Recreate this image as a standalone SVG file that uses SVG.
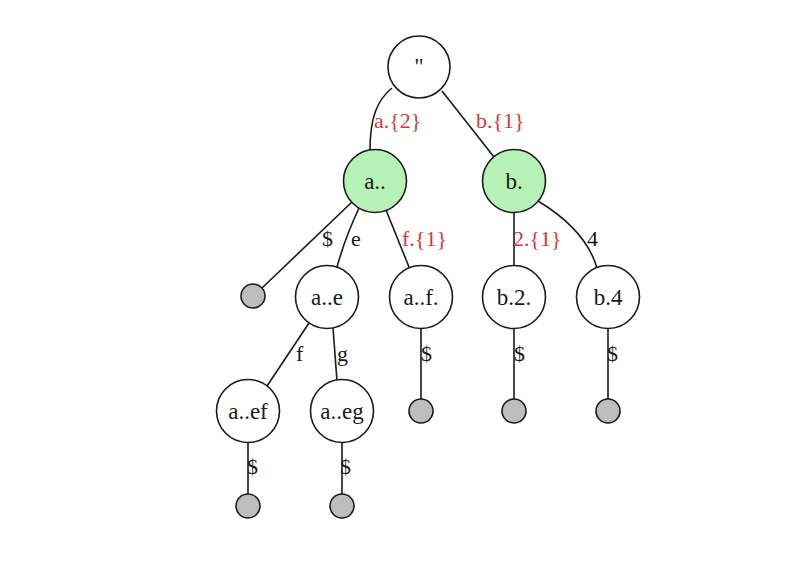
<svg xmlns="http://www.w3.org/2000/svg" width="806" height="576" viewBox="0 0 806 576">
<style>
.n{fill:#fff;stroke:#1a1a1a;stroke-width:1.6}
.g{fill:#b6f2b6;stroke:#1a1a1a;stroke-width:1.6}
.t{fill:#bdbdbd;stroke:#1a1a1a;stroke-width:1.6}
.e{fill:none;stroke:#1a1a1a;stroke-width:1.6}
text{font-family:"Liberation Serif","Times New Roman",serif;font-size:22px;fill:#1a1a1a}
.lb{text-anchor:middle;font-size:23px}
.r{fill:#d83838}
</style>
<rect width="806" height="576" fill="#fff"/>
<g id="connectors">
<path class="e" d="M392,88 C377,100 370,118 370,150"/>
<path class="e" d="M442,91 L494,157"/>
<path class="e" d="M352,202 L262,288"/>
<path class="e" d="M359,208 Q345,238 337,267"/>
<path class="e" d="M386,210 L409,267"/>
<path class="e" d="M514,212 L514,266"/>
<path class="e" d="M538,201 Q586,230 597,268"/>
<path class="e" d="M309,323 L267,386"/>
<path class="e" d="M333,328 L337,381"/>
<path class="e" d="M421,328 L421,399"/>
<path class="e" d="M514,328 L514,399"/>
<path class="e" d="M608,328 L608,399"/>
<path class="e" d="M248,443 L248,494"/>
<path class="e" d="M342,443 L342,494"/>
<text class="r" x="374" y="128">a.{2}</text>
<text class="r" x="476" y="128">b.{1}</text>
<text x="322" y="246">$</text>
<text x="351" y="246">e</text>
<text class="r" x="402" y="246">f.{1}</text>
<text class="r" x="513" y="246">2.{1}</text>
<text x="587" y="246">4</text>
<text x="296" y="361">f</text>
<text x="337" y="361">g</text>
<text x="421" y="361">$</text>
<text x="514" y="361">$</text>
<text x="607" y="361">$</text>
<text x="247" y="474">$</text>
<text x="340" y="474">$</text>
</g>
<g id="root"><circle class="n" cx="419" cy="67" r="31"/><text class="lb" x="419" y="74">''</text></g>
<g id="a"><circle class="g" cx="375" cy="181" r="31.5"/><text class="lb" x="375" y="189">a..</text></g>
<g id="b"><circle class="g" cx="514" cy="181" r="31.5"/><text class="lb" x="514" y="189">b.</text></g>
<g id="a_end"><circle class="t" cx="253" cy="296" r="12"/></g>
<g id="ae"><circle class="n" cx="327" cy="297" r="31.5"/><text class="lb" x="327" y="305">a..e</text></g>
<g id="af"><circle class="n" cx="421" cy="297" r="31.5"/><text class="lb" x="421" y="305">a..f.</text></g>
<g id="b2"><circle class="n" cx="514" cy="297" r="31.5"/><text class="lb" x="514" y="305">b.2.</text></g>
<g id="b4"><circle class="n" cx="608" cy="297" r="31.5"/><text class="lb" x="608" y="305">b.4</text></g>
<g id="aef"><circle class="n" cx="248" cy="411" r="31.5"/><text class="lb" x="248" y="419">a..ef</text></g>
<g id="aeg"><circle class="n" cx="342" cy="411" r="31.5"/><text class="lb" x="342" y="419">a..eg</text></g>
<g id="af_end"><circle class="t" cx="421" cy="411" r="12"/></g>
<g id="b2_end"><circle class="t" cx="514" cy="411" r="12"/></g>
<g id="b4_end"><circle class="t" cx="608" cy="411" r="12"/></g>
<g id="aef_end"><circle class="t" cx="248" cy="506" r="12"/></g>
<g id="aeg_end"><circle class="t" cx="342" cy="506" r="12"/></g>
</svg>
